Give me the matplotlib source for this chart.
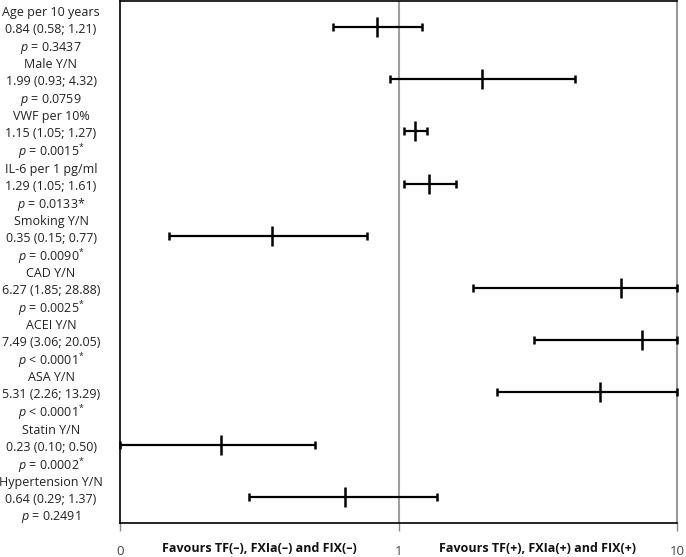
import numpy as np
import matplotlib
matplotlib.use("Agg")
import matplotlib.pyplot as plt
from matplotlib.transforms import blended_transform_factory, offset_copy

plt.rcParams['font.family'] = ['Open Sans', 'DejaVu Sans']
plt.rcParams['mathtext.fontset'] = 'custom'
plt.rcParams['mathtext.rm'] = 'Open Sans'
plt.rcParams['mathtext.it'] = 'Open Sans:italic'

names = ["Age per 10 years", "Male Y/N", "VWF per 10%", "IL-6 per 1 pg/ml",
         "Smoking Y/N", "CAD Y/N", "ACEI Y/N", "ASA Y/N", "Statin Y/N",
         "Hypertension Y/N"]
odds = [0.84, 1.99, 1.15, 1.29, 0.35, 6.27, 7.49, 5.31, 0.23, 0.64]
lower = [0.58, 0.93, 1.05, 1.05, 0.15, 1.85, 3.06, 2.26, 0.10, 0.29]
upper = [1.21, 4.32, 1.27, 1.61, 0.77, 28.88, 20.05, 13.29, 0.50, 1.37]
pvals = ["= 0.3437", "= 0.0759", "= 0.0015", "= 0.0133", "= 0.0090",
         "= 0.0025", "< 0.0001", "< 0.0001", "= 0.0002", "= 0.2491"]
stars = ["", "", "small", "big", "small", "small", "small", "small", "small", ""]
tick_vals = [0.1, 1, 10]
tick_labels = ["0", "1", "10"]
favour_left = "Favours TF(\u2013), FXIa(\u2013) and FIX(\u2013)"
favour_right = "Favours TF(+), FXIa(+) and FIX(+)"

W, H = 686, 557
fig = plt.figure(figsize=(W/100, H/100), dpi=100)
ax = fig.add_axes([120/W, 1 - 523/H, (677-120)/W, (523-1)/H])

xmin, xmax = tick_vals[0], tick_vals[-1]
n = len(names)
y = np.arange(n)
odds_a = np.array(odds)
lo = np.maximum(np.array(lower), xmin)
hi = np.minimum(np.array(upper), xmax)

ax.set_xscale('log')
ax.set_xlim(xmin, xmax)
ax.set_ylim(n - 0.5, -0.5)

ax.axvline(1, color='#a0a0a0', lw=1.5, zorder=1)

ax.errorbar(odds_a, y, xerr=[odds_a - lo, hi - odds_a], fmt='none',
            ecolor='black', elinewidth=1.6, capsize=3.2, capthick=1.8, zorder=3,
            clip_on=False)
ax.plot(odds_a, y, linestyle='none', marker='|', markersize=15,
        markeredgewidth=1.8, color='black', zorder=4)

ax.set_yticks([])
ax.set_xticks(tick_vals)
ax.set_xticklabels(tick_labels)
ax.xaxis.set_minor_locator(matplotlib.ticker.NullLocator())
ax.tick_params(axis='x', direction='out', length=6, width=1, colors='#888888',
               labelcolor='#444444', labelsize=9.5, pad=10)

for s in ['top', 'left', 'bottom']:
    ax.spines[s].set_color('black')
    ax.spines[s].set_linewidth(1.2)
ax.spines['right'].set_color('#999999')
ax.spines['right'].set_linewidth(1.5)

trans = blended_transform_factory(fig.transFigure, ax.transData)
fs = 9
for i in range(n):
    star = ""
    if stars[i] == "small":
        star = r"$^{*}$"
    elif stars[i] == "big":
        star = "*"
    lines = [names[i],
             f"{odds[i]:.2f} ({lower[i]:.2f}; {upper[i]:.2f})",
             f"$p$ {pvals[i]}{star}"]
    for k, line in enumerate(lines):
        t = offset_copy(trans, fig=fig, x=0, y=(1 - k) * 17 - 1, units='dots')
        ax.text(51/W, i, line, transform=t, ha='center', va='center_baseline',
                fontsize=fs, color='#222222')

trans2 = blended_transform_factory(ax.transData, fig.transFigure)
yl = 1 - 548/H
ax.text(np.sqrt(xmin*1), yl, favour_left, transform=trans2, ha='center',
        va='center', fontsize=fs, fontweight='bold', color='#111111')
ax.text(np.sqrt(1*xmax), yl, favour_right, transform=trans2, ha='center',
        va='center', fontsize=fs, fontweight='bold', color='#111111')

fig.savefig("out.png", dpi=100)
